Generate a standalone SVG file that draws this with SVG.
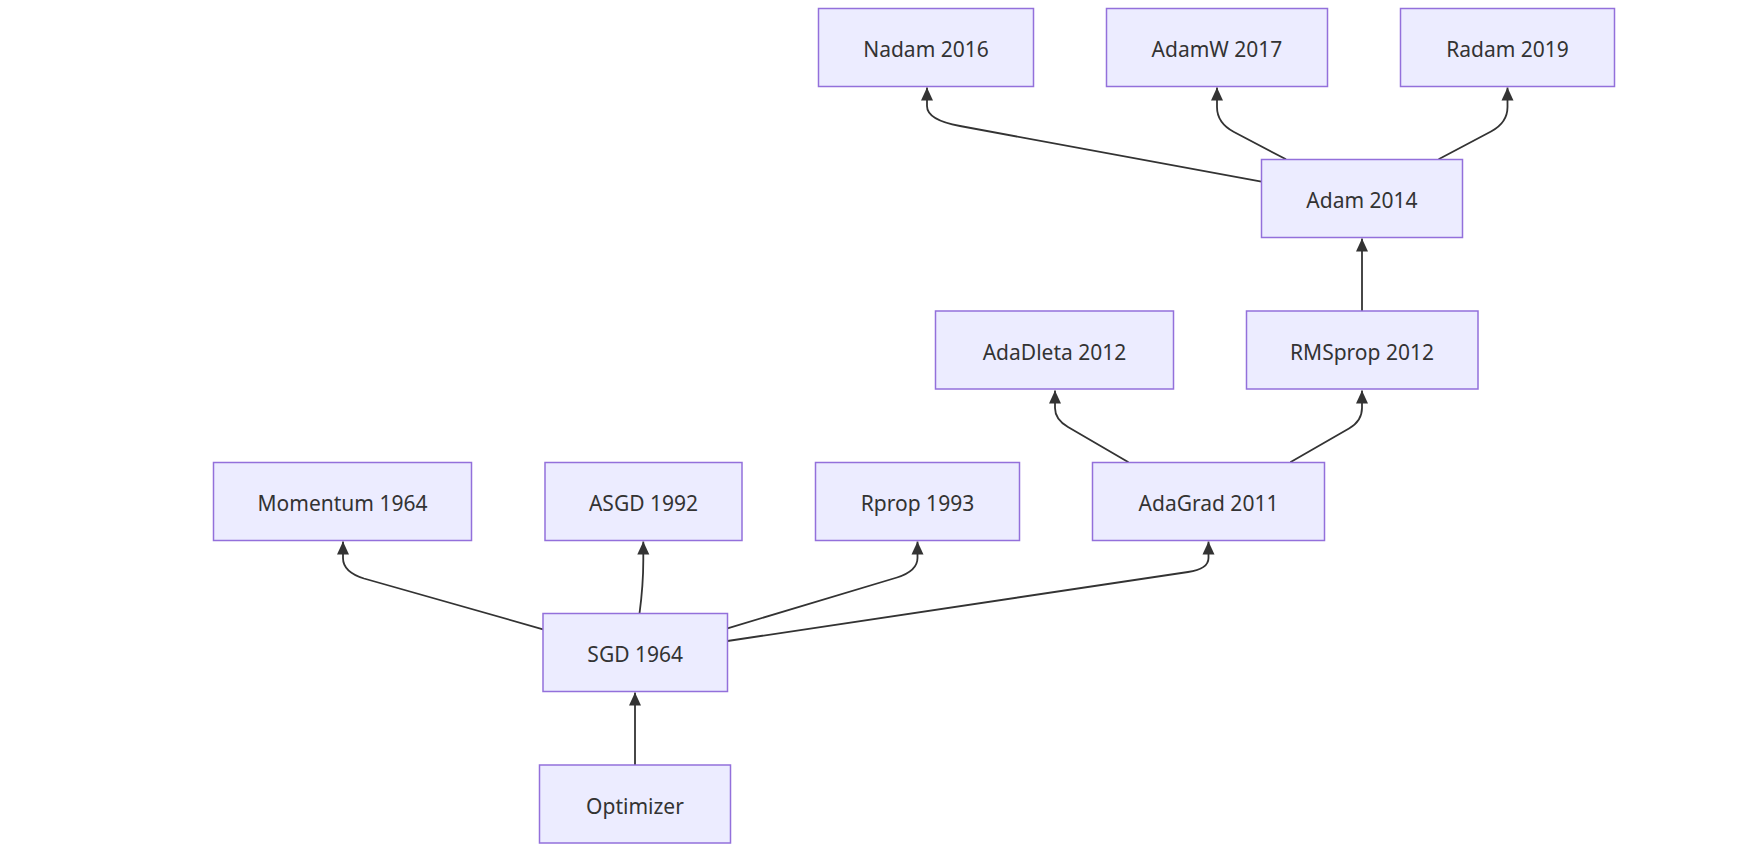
<svg xmlns="http://www.w3.org/2000/svg" width="1752" height="853" viewBox="0 0 1752 853">
<style>
.node rect{fill:#ECECFF;stroke:#9370DB;stroke-width:1.5px;}
.node text{fill:#333333;font-family:"Noto Sans","DejaVu Sans",sans-serif;font-size:21px;text-anchor:middle;}
.edge{fill:none;stroke:#333333;stroke-width:1.8px;marker-end:url(#arrow);}
</style>
<defs>
<marker id="arrow" markerUnits="userSpaceOnUse" markerWidth="13" markerHeight="13" viewBox="0 0 13 13" refX="13" refY="6.5" orient="auto">
<path d="M0,0.5 L13,6.5 L0,12.5 z" fill="#333333"/>
</marker>
</defs>
<rect x="0" y="0" width="1752" height="853" fill="#ffffff"/>
<g id="connectors">
<path class="edge" d="M635,765 L635,692.5"/>
<path class="edge" d="M543,629.3 L364,578.5 Q343,572 343,558 L343,541.5"/>
<path class="edge" d="M639.5,613.5 Q643.3,585 643.3,560 L643.3,541.5"/>
<path class="edge" d="M727.5,628.3 L897,577.5 Q917.5,571 917.5,558 L917.5,541.5"/>
<path class="edge" d="M727.5,641 L1188,572 Q1208.5,569 1208.5,558 L1208.5,541.5"/>
<path class="edge" d="M1128.5,462.3 L1068,427 Q1055,419.5 1055,408 L1055,390.5"/>
<path class="edge" d="M1290.3,462.3 L1349,428.5 Q1362,421 1362,408 L1362,390.5"/>
<path class="edge" d="M1362,311 L1362,238.5"/>
<path class="edge" d="M1261.5,181.7 L960,126 Q927,120 927,106 L927,87.5"/>
<path class="edge" d="M1286,159.3 L1234,132 Q1217,123 1217,107 L1217,87.5"/>
<path class="edge" d="M1438.6,159.3 L1491,131.5 Q1507.5,122.7 1507.5,107 L1507.5,87.5"/>
</g>
<g id="node-nadam" class="node"><rect x="818.5" y="8.5" width="215" height="78"/><text x="926" y="57">Nadam 2016</text></g>
<g id="node-adamw" class="node"><rect x="1106.5" y="8.5" width="221" height="78"/><text x="1217" y="57">AdamW 2017</text></g>
<g id="node-radam" class="node"><rect x="1400.5" y="8.5" width="214" height="78"/><text x="1507.5" y="57">Radam 2019</text></g>
<g id="node-adam" class="node"><rect x="1261.5" y="159.5" width="201" height="78"/><text x="1362" y="208">Adam 2014</text></g>
<g id="node-adadleta" class="node"><rect x="935.5" y="311" width="238" height="78"/><text x="1054.5" y="359.5">AdaDleta 2012</text></g>
<g id="node-rmsprop" class="node"><rect x="1246.5" y="311" width="231.5" height="78"/><text x="1362" y="359.5">RMSprop 2012</text></g>
<g id="node-momentum" class="node"><rect x="213.5" y="462.5" width="258" height="78"/><text x="342.5" y="511">Momentum 1964</text></g>
<g id="node-asgd" class="node"><rect x="545" y="462.5" width="197" height="78"/><text x="643.5" y="511">ASGD 1992</text></g>
<g id="node-rprop" class="node"><rect x="815.5" y="462.5" width="204" height="78"/><text x="917.5" y="511">Rprop 1993</text></g>
<g id="node-adagrad" class="node"><rect x="1092.5" y="462.5" width="232" height="78"/><text x="1208.5" y="511">AdaGrad 2011</text></g>
<g id="node-sgd" class="node"><rect x="543" y="613.5" width="184.5" height="78"/><text x="635.2" y="662">SGD 1964</text></g>
<g id="node-optimizer" class="node"><rect x="539.5" y="765" width="191" height="78"/><text x="635" y="813.5">Optimizer</text></g>
</svg>
